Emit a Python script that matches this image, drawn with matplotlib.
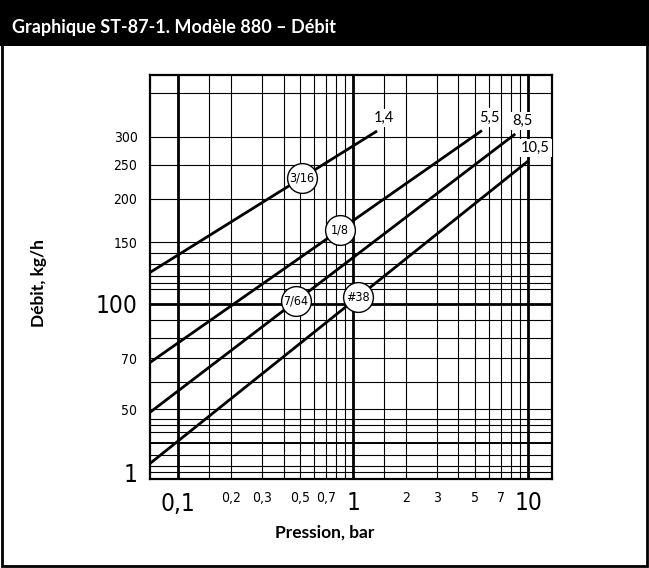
import numpy as np
import matplotlib
matplotlib.use("Agg")
import matplotlib.pyplot as plt
from matplotlib import font_manager
from matplotlib.patches import Rectangle

# flow curves per orifice (pressure in bar, flow in kg/h)
orifices = ["3/16", "1/8", "7/64", "#38"]
p_start = [0.069, 0.069, 0.069, 0.069]
q_start = [123, 68, 49, 35]
p_end = [1.37, 5.45, 8.45, 10.0]
q_end = [312, 313, 306, 256]
max_labels = ["1,4", "5,5", "8,5", "10,5"]
badge_p = [0.51, 0.84, 0.47, 1.06]

x_grid = [0.1, 0.15, 0.2, 0.3, 0.4, 0.5, 0.6, 0.7, 0.8, 0.9,
          1, 1.5, 2, 3, 4, 5, 6, 7, 8, 9, 10]
y_grid = [33, 34.5, 37, 40, 43, 45, 47, 50, 60, 70, 80, 90, 100,
          110, 115, 120, 130, 140, 150, 200, 250, 300, 400]
x_ticks = [0.1, 0.2, 0.3, 0.5, 0.7, 1, 2, 3, 5, 7, 10]
x_labels = ["0,1", "0,2", "0,3", "0,5", "0,7", "1", "2", "3", "5", "7", "10"]
y_ticks = [33, 50, 70, 100, 150, 200, 250, 300]
y_labels = ["1", "50", "70", "100", "150", "200", "250", "300"]
big = ["0,1", "1", "10", "100"]

# pick a condensed face for the numbers if one is around
fonts = font_manager.fontManager.ttflist
names = {f.name for f in fonts}
if "Liberation Sans Narrow" in names:
    narrow, stretch = "Liberation Sans Narrow", "normal"
elif any(f.name == "DejaVu Sans" and f.stretch == "condensed" for f in fonts):
    narrow, stretch = "DejaVu Sans", "condensed"
else:
    narrow, stretch = "Roboto", "normal"
ui_font = "Lato"

fig = plt.figure(figsize=(6.49, 5.68), dpi=100)
ax = fig.add_axes([150 / 649, 1 - 479 / 568, 402 / 649, 404 / 568])
ax.set_xscale("log")
ax.set_yscale("log")
ax.set_xlim(0.069, 13.7)
ax.set_ylim(31.6, 451)

for v in x_grid:
    ax.axvline(v, color="black", lw=2.0 if v in (0.1, 1, 10) else 0.8, zorder=1)
for v in y_grid:
    lw = 2.0 if v == 100 else (1.4 if v == 40 else 0.8)
    ax.axhline(v, color="black", lw=lw, zorder=1)

for i in range(len(orifices)):
    ax.plot([p_start[i], p_end[i]], [q_start[i], q_end[i]], color="black", lw=2.0,
            solid_capstyle="butt", zorder=3)
    ax.annotate(max_labels[i], (p_end[i], q_end[i]), xytext=(7, 13), textcoords="offset pixels",
                ha="center", va="center", fontsize=10.5, family=ui_font,
                bbox=dict(boxstyle="square,pad=0.15", fc="white", ec="none"), zorder=5)
    # badge sits on the curve (straight line in log-log)
    t = (np.log(badge_p[i]) - np.log(p_start[i])) / (np.log(p_end[i]) - np.log(p_start[i]))
    by = np.exp(np.log(q_start[i]) + t * (np.log(q_end[i]) - np.log(q_start[i])))
    ax.scatter([badge_p[i]], [by], s=460, facecolor="white", edgecolor="black", lw=1.0, zorder=6)
    ax.text(badge_p[i], by, orifices[i], ha="center", va="center", fontsize=9,
            family=narrow, fontstretch=stretch, zorder=7)

ax.minorticks_off()
ax.set_xticks(x_ticks)
ax.set_xticklabels(x_labels)
ax.set_yticks(y_ticks)
ax.set_yticklabels(y_labels)
ax.tick_params(length=0, pad=9)
for lab in ax.get_xticklabels() + ax.get_yticklabels():
    lab.set_family(narrow)
    lab.set_fontstretch(stretch)
    lab.set_fontsize(17.5 if lab.get_text() in big else 10)
for lab in ax.get_yticklabels():
    if lab.get_text() == "1":
        lab.set_fontsize(17.5)
for s in ax.spines.values():
    s.set_linewidth(1.6)

fig.text(325 / 649, 1 - 533 / 568, "Pression, bar", ha="center", va="center",
         fontsize=12.5, fontweight="bold", family=ui_font)
fig.text(39 / 649, 1 - 283 / 568, "Débit, kg/h", ha="center", va="center", rotation=90,
         fontsize=12.5, fontweight="bold", family=ui_font)

# header bar and outer frame
fig.patches.append(Rectangle((0, 1 - 46 / 568), 1, 46 / 568, transform=fig.transFigure,
                             fc="black", ec="none", zorder=0))
fig.patches.append(Rectangle((0.003, 0.003), 0.994, 0.994, transform=fig.transFigure,
                             fc="none", ec="black", lw=2, zorder=1))
fig.text(12 / 649, 1 - 27 / 568, "Graphique ST-87-1. Modèle 880 – Débit", ha="left", va="center",
         color="white", fontsize=13, fontweight="bold", family=ui_font)

fig.savefig("out.png", dpi=100)
